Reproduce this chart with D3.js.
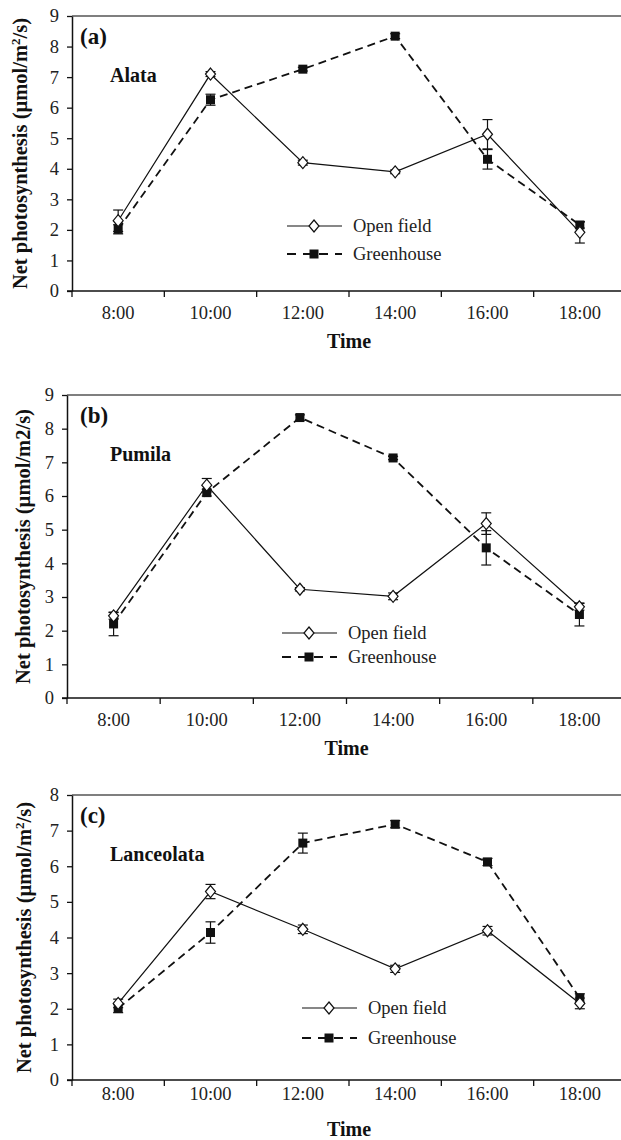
<!DOCTYPE html>
<html>
<head>
<meta charset="utf-8">
<script src="https://cdn.jsdelivr.net/npm/d3@7"></script>
<style>
  body { margin: 0; background: #fff; }
  svg { display: block; font-family: "Liberation Serif", "Times New Roman", serif; }
</style>
</head>
<body>
<div id="chart"></div>
<script>
// categories
var times = ["8:00", "10:00", "12:00", "14:00", "16:00", "18:00"];

// (a) Alata
var openA     = [2.3, 7.1, 4.2, 3.9, 5.13, 1.92];
var openAErr  = [0.35, 0.08, 0.08, 0.06, 0.48, 0.35];
var greenA    = [2.02, 6.26, 7.26, 8.34, 4.31, 2.16];
var greenAErr = [0.15, 0.18, 0.06, 0.08, 0.32, 0.1];

// (b) Pumila
var openB     = [2.44, 6.32, 3.23, 3.02, 5.18, 2.71];
var openBErr  = [0.1, 0.2, 0.05, 0.1, 0.32, 0.1];
var greenB    = [2.2, 6.1, 8.33, 7.13, 4.46, 2.48];
var greenBErr = [0.35, 0.1, 0.08, 0.05, 0.51, 0.34];

// (c) Lanceolata
var openC     = [2.15, 5.29, 4.23, 3.12, 4.19, 2.15];
var openCErr  = [0.12, 0.2, 0.12, 0.1, 0.12, 0.15];
var greenC    = [2.01, 4.14, 6.65, 7.18, 6.12, 2.3];
var greenCErr = [0.12, 0.3, 0.28, 0.1, 0.1, 0.12];

var seriesNames = ["Open field", "Greenhouse"];

var width = 621, height = 1140;

var svg = d3.select("#chart").append("svg")
    .attr("width", width)
    .attr("height", height);

var panels = [
  { tag: "(a)", name: "Alata", open: openA, openErr: openAErr, green: greenA, greenErr: greenAErr,
    yMax: 9, left: 72, top: 16, bottom: 291, tickPad: 9, timeY: 348, sup: true, titleX: 20,
    legX: 287, legY: 226, legGap: 28 },
  { tag: "(b)", name: "Pumila", open: openB, openErr: openBErr, green: greenB, greenErr: greenBErr,
    yMax: 9, left: 67, top: 395, bottom: 698, tickPad: 9, timeY: 755, sup: false, titleX: 23,
    legX: 282, legY: 633, legGap: 24 },
  { tag: "(c)", name: "Lanceolata", open: openC, openErr: openCErr, green: greenC, greenErr: greenCErr,
    yMax: 8, left: 72, top: 795, bottom: 1080, tickPad: 1, timeY: 1136, sup: true, titleX: 24,
    legX: 302, legY: 1008, legGap: 30 }
];

var right = 626;

function diamond(g, x, y) {
  g.append("path")
    .attr("d", "M" + x + "," + (y - 6) + "L" + (x + 5) + "," + y + "L" + x + "," + (y + 6) + "L" + (x - 5) + "," + y + "Z")
    .attr("fill", "#fff")
    .attr("stroke", "#111")
    .attr("stroke-width", 1.2);
}

function square(g, x, y) {
  g.append("rect")
    .attr("x", x - 4.5).attr("y", y - 4.5)
    .attr("width", 9).attr("height", 9)
    .attr("fill", "#111");
}

panels.forEach(function (p) {
  var g = svg.append("g");

  var x = d3.scaleBand().domain(times).range([p.left, right]);
  var y = d3.scaleLinear().domain([0, p.yMax]).range([p.bottom, p.top]);
  var cx = function (i) { return x(times[i]) + x.bandwidth() / 2; };

  // top frame line
  g.append("line")
    .attr("x1", p.left).attr("x2", width)
    .attr("y1", p.top).attr("y2", p.top)
    .attr("stroke", "#555").attr("stroke-width", 1.5);

  // y axis
  var yAxis = g.append("g")
    .attr("transform", "translate(" + p.left + ",0)")
    .call(d3.axisLeft(y).ticks(p.yMax).tickSizeInner(5).tickSizeOuter(0).tickPadding(8));
  yAxis.select(".domain").attr("stroke", "#111").attr("stroke-width", 1.5);
  yAxis.selectAll(".tick line").attr("stroke", "#111").attr("stroke-width", 1.3);
  yAxis.selectAll("text").attr("font-size", 18.5).attr("font-family", "Liberation Serif").attr("fill", "#222");

  // x axis labels centred in bands
  var xAxis = g.append("g")
    .attr("transform", "translate(0," + p.bottom + ")")
    .call(d3.axisBottom(x).tickSize(0).tickPadding(p.tickPad + 6));
  xAxis.select(".domain").remove();
  xAxis.selectAll("text").attr("font-size", 18.5).attr("font-family", "Liberation Serif").attr("fill", "#222");

  g.append("line")
    .attr("x1", p.left - 5).attr("x2", width)
    .attr("y1", p.bottom).attr("y2", p.bottom)
    .attr("stroke", "#111").attr("stroke-width", 1.5);

  // boundary ticks between categories
  g.selectAll("line.btick")
    .data(times)
    .enter().append("line")
    .attr("class", "btick")
    .attr("x1", function (d) { return x(d); })
    .attr("x2", function (d) { return x(d); })
    .attr("y1", p.bottom).attr("y2", p.bottom + 6)
    .attr("stroke", "#111").attr("stroke-width", 1.3);

  // axis titles
  g.append("text")
    .attr("x", (p.left + right) / 2)
    .attr("y", p.timeY)
    .attr("text-anchor", "middle")
    .attr("font-size", 20)
    .attr("font-weight", "bold")
    .attr("fill", "#111")
    .text("Time");

  var yt = g.append("text")
    .attr("transform", "translate(" + p.titleX + "," + ((p.top + p.bottom) / 2) + ") rotate(-90)")
    .attr("text-anchor", "middle")
    .attr("dy", "0.35em")
    .attr("font-size", 20.5)
    .attr("font-weight", "bold")
    .attr("fill", "#111");
  if (p.sup) {
    yt.append("tspan").text("Net photosynthesis (\u00b5mol/m");
    yt.append("tspan").attr("baseline-shift", "super").attr("font-size", 13).text("2");
    yt.append("tspan").text("/s)");
  } else {
    yt.text("Net photosynthesis (\u00b5mol/m2/s)");
  }

  // panel tag and species
  g.append("text")
    .attr("x", 80).attr("y", p.top + 28)
    .attr("font-size", 23).attr("font-weight", "bold").attr("fill", "#111")
    .text(p.tag);
  g.append("text")
    .attr("x", 110).attr("y", p.top + 66)
    .attr("font-size", 20).attr("font-weight", "bold").attr("fill", "#111")
    .text(p.name);

  var line = d3.line()
    .x(function (d, i) { return cx(i); })
    .y(function (d) { return y(d); });

  // series lines
  g.append("path")
    .datum(p.green)
    .attr("d", line)
    .attr("fill", "none")
    .attr("stroke", "#111")
    .attr("stroke-width", 1.8)
    .attr("stroke-dasharray", "8,5");

  g.append("path")
    .datum(p.open)
    .attr("d", line)
    .attr("fill", "none")
    .attr("stroke", "#111")
    .attr("stroke-width", 1.2);

  // error bars
  function errBars(vals, errs) {
    vals.forEach(function (v, i) {
      var x0 = cx(i), y1 = y(v + errs[i]), y2 = y(v - errs[i]);
      g.append("line").attr("x1", x0).attr("x2", x0).attr("y1", y1).attr("y2", y2)
        .attr("stroke", "#111").attr("stroke-width", 1.2);
      [y1, y2].forEach(function (yy) {
        g.append("line").attr("x1", x0 - 5).attr("x2", x0 + 5).attr("y1", yy).attr("y2", yy)
          .attr("stroke", "#111").attr("stroke-width", 1.2);
      });
    });
  }
  errBars(p.green, p.greenErr);
  errBars(p.open, p.openErr);

  p.green.forEach(function (v, i) { square(g, cx(i), y(v)); });
  p.open.forEach(function (v, i) { diamond(g, cx(i), y(v)); });

  // legend
  var lx = p.legX, ly = p.legY, ly2 = p.legY + p.legGap;
  g.append("line").attr("x1", lx).attr("x2", lx + 55).attr("y1", ly).attr("y2", ly)
    .attr("stroke", "#111").attr("stroke-width", 1.2);
  diamond(g, lx + 27, ly);
  g.append("text").attr("x", lx + 66).attr("y", ly).attr("dy", "0.35em")
    .attr("font-size", 18.5).attr("fill", "#222").text(seriesNames[0]);

  g.append("line").attr("x1", lx).attr("x2", lx + 55).attr("y1", ly2).attr("y2", ly2)
    .attr("stroke", "#111").attr("stroke-width", 1.8).attr("stroke-dasharray", "9,7");
  square(g, lx + 27, ly2);
  g.append("text").attr("x", lx + 66).attr("y", ly2).attr("dy", "0.35em")
    .attr("font-size", 18.5).attr("fill", "#222").text(seriesNames[1]);
});
</script>
</body>
</html>
